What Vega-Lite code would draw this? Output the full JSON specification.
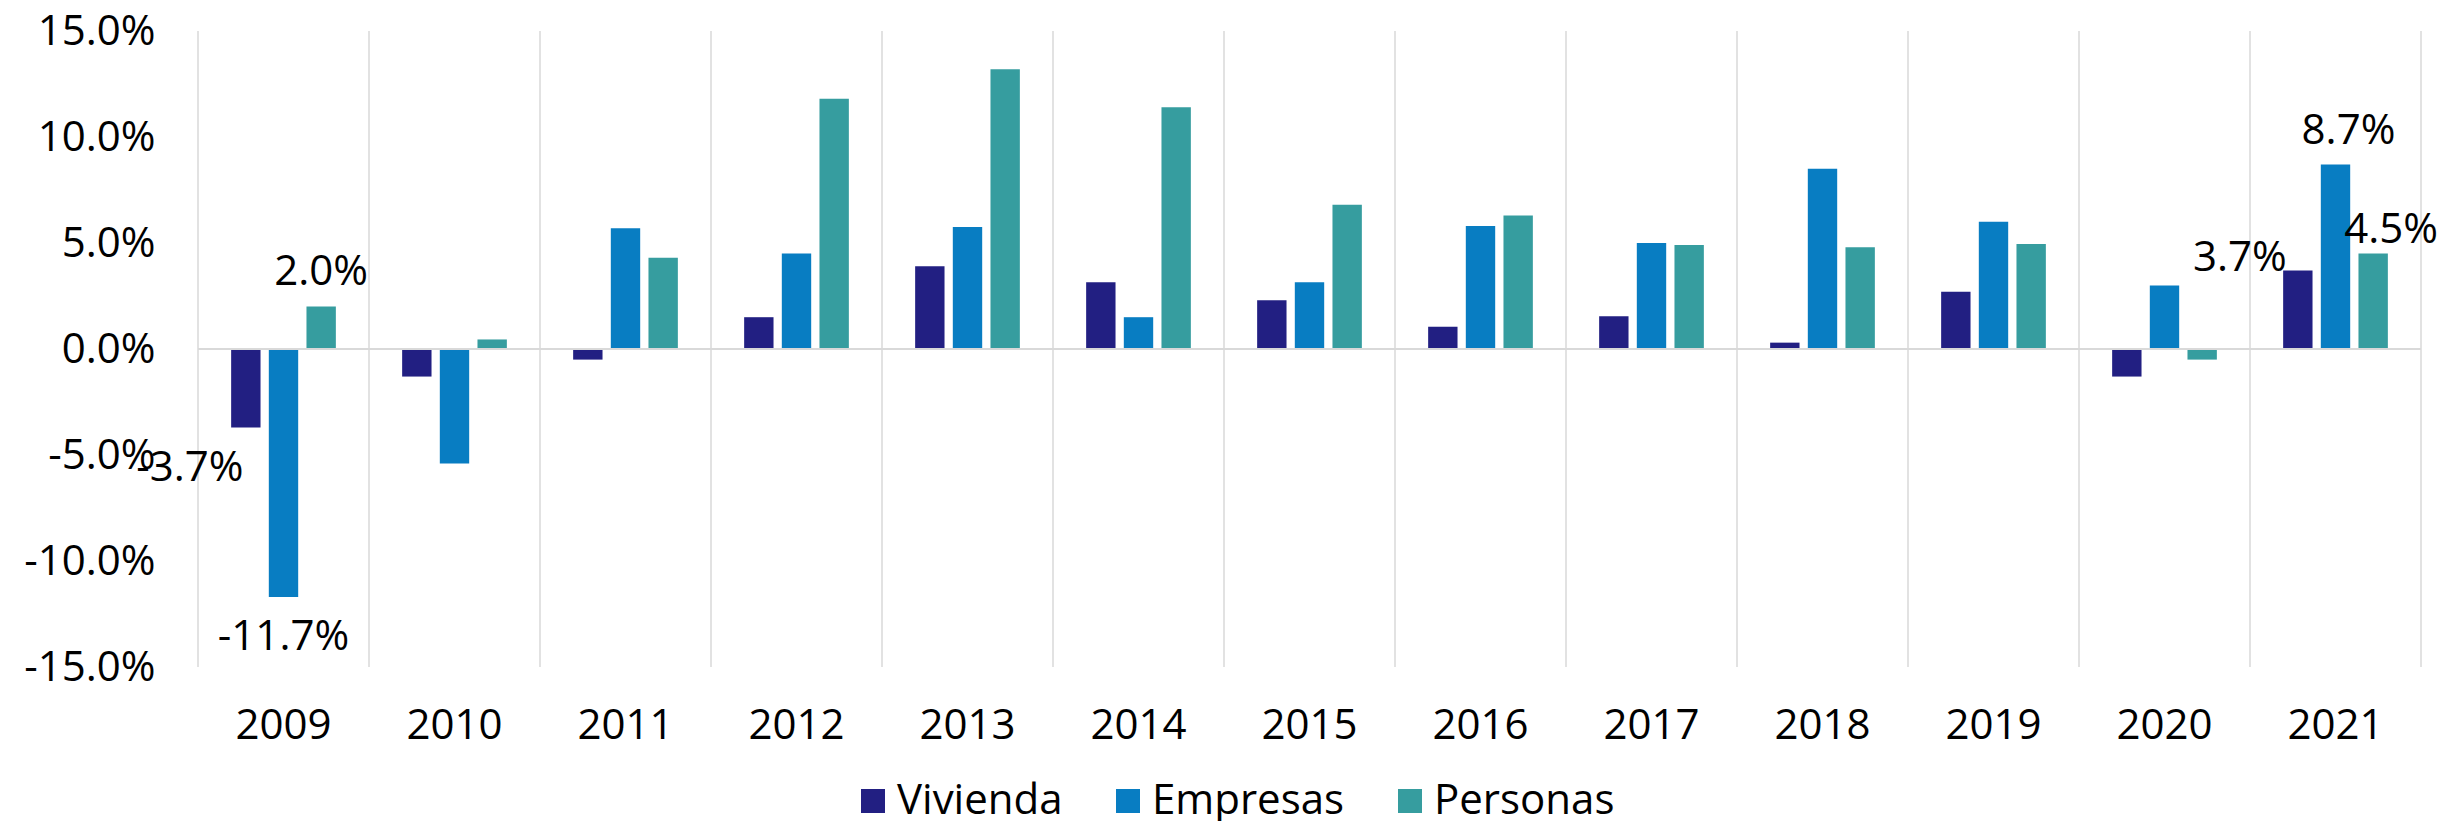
{
  "$schema": "https://vega.github.io/schema/vega-lite/v6.json",
  "width": 2223,
  "height": 636,
  "autosize": {"type": "none"},
  "padding": {"left": 198, "top": 31, "right": 24, "bottom": 154},
  "background": "white",
  "config": {
    "view": {"stroke": null},
    "font": "Open Sans",
    "axis": {"grid": false, "domain": false, "ticks": false, "labelFontSize": 42, "labelFont": "Open Sans", "labelColor": "#000000", "titleOpacity": 0}
  },
  "data": {
    "values": [
      {"year": "2009", "serie": "Vivienda", "value": -0.037},
      {"year": "2009", "serie": "Empresas", "value": -0.117},
      {"year": "2009", "serie": "Personas", "value": 0.020},
      {"year": "2010", "serie": "Vivienda", "value": -0.013},
      {"year": "2010", "serie": "Empresas", "value": -0.054},
      {"year": "2010", "serie": "Personas", "value": 0.0045},
      {"year": "2011", "serie": "Vivienda", "value": -0.005},
      {"year": "2011", "serie": "Empresas", "value": 0.057},
      {"year": "2011", "serie": "Personas", "value": 0.043},
      {"year": "2012", "serie": "Vivienda", "value": 0.015},
      {"year": "2012", "serie": "Empresas", "value": 0.045},
      {"year": "2012", "serie": "Personas", "value": 0.118},
      {"year": "2013", "serie": "Vivienda", "value": 0.039},
      {"year": "2013", "serie": "Empresas", "value": 0.0575},
      {"year": "2013", "serie": "Personas", "value": 0.132},
      {"year": "2014", "serie": "Vivienda", "value": 0.0315},
      {"year": "2014", "serie": "Empresas", "value": 0.015},
      {"year": "2014", "serie": "Personas", "value": 0.114},
      {"year": "2015", "serie": "Vivienda", "value": 0.023},
      {"year": "2015", "serie": "Empresas", "value": 0.0315},
      {"year": "2015", "serie": "Personas", "value": 0.068},
      {"year": "2016", "serie": "Vivienda", "value": 0.0105},
      {"year": "2016", "serie": "Empresas", "value": 0.058},
      {"year": "2016", "serie": "Personas", "value": 0.063},
      {"year": "2017", "serie": "Vivienda", "value": 0.0155},
      {"year": "2017", "serie": "Empresas", "value": 0.050},
      {"year": "2017", "serie": "Personas", "value": 0.049},
      {"year": "2018", "serie": "Vivienda", "value": 0.003},
      {"year": "2018", "serie": "Empresas", "value": 0.085},
      {"year": "2018", "serie": "Personas", "value": 0.048},
      {"year": "2019", "serie": "Vivienda", "value": 0.027},
      {"year": "2019", "serie": "Empresas", "value": 0.060},
      {"year": "2019", "serie": "Personas", "value": 0.0495},
      {"year": "2020", "serie": "Vivienda", "value": -0.013},
      {"year": "2020", "serie": "Empresas", "value": 0.030},
      {"year": "2020", "serie": "Personas", "value": -0.005},
      {"year": "2021", "serie": "Vivienda", "value": 0.037},
      {"year": "2021", "serie": "Empresas", "value": 0.087},
      {"year": "2021", "serie": "Personas", "value": 0.045}
    ]
  },
  "layer": [
    {
      "mark": {"type": "bar"},
      "encoding": {
        "x": {
          "field": "year", "type": "nominal",
          "scale": {"type": "band", "paddingInner": 0, "paddingOuter": 0},
          "axis": {"labelPadding": 38, "labelAngle": 0, "title": null}
        },
        "xOffset": {
          "field": "serie", "type": "nominal",
          "scale": {"domain": ["Vivienda", "Empresas", "Personas"], "paddingInner": 0.22, "paddingOuter": 0.88}
        },
        "y": {
          "field": "value", "type": "quantitative",
          "scale": {"domain": [-0.15, 0.15], "nice": false},
          "axis": {"values": [-0.15, -0.1, -0.05, 0, 0.05, 0.1, 0.15], "labelExpr": "replace(format(datum.value, '.1%'), '\u2212', '-')", "labelPadding": 43, "title": null}
        },
        "color": {
          "field": "serie", "type": "nominal",
          "scale": {"domain": ["Vivienda", "Empresas", "Personas"], "range": ["#221f82", "#087dc2", "#369d9f"]},
          "legend": {"orient": "none", "legendX": 654, "legendY": 749, "direction": "horizontal", "title": null, "symbolType": "square", "symbolSize": 576, "symbolOpacity": 1, "symbolStrokeWidth": 0, "labelFontSize": 42, "labelFont": "Open Sans", "labelOffset": 3, "columnPadding": 44, "labelColor": "#000000", "padding": 0, "labelLimit": 400}
        }
      }
    },
    {
      "transform": [{"aggregate": [{"op": "count", "as": "n"}], "groupby": ["year"]}],
      "mark": {"type": "rule", "color": "#d9d9d9", "strokeWidth": 1.5},
      "encoding": {
        "x": {"field": "year", "type": "nominal", "bandPosition": 0}
      }
    },
    {
      "transform": [{"filter": "datum.year === '2021' && datum.serie === 'Personas'"}],
      "mark": {"type": "rule", "color": "#d9d9d9", "strokeWidth": 1.5},
      "encoding": {
        "x": {"field": "year", "type": "nominal", "bandPosition": 1}
      }
    },
    {
      "mark": {"type": "rule", "color": "#d9d9d9", "strokeWidth": 1.75},
      "encoding": {
        "y": {"datum": 0, "type": "quantitative"}
      }
    },
    {
      "transform": [{"filter": "datum.year === '2009' && datum.serie === 'Personas'"}],
      "mark": {"type": "text", "fontSize": 42, "font": "Open Sans", "color": "#000000", "baseline": "alphabetic", "align": "center", "dx": 0, "dy": -22, "text": {"expr": "replace(format(datum.value, '.1%'), '\u2212', '-')"}},
      "encoding": {
        "x": {"field": "year", "type": "nominal"},
        "xOffset": {"field": "serie", "type": "nominal"},
        "y": {"field": "value", "type": "quantitative"}
      }
    },
    {
      "transform": [{"filter": "datum.year === '2021' && datum.serie === 'Empresas'"}],
      "mark": {"type": "text", "fontSize": 42, "font": "Open Sans", "color": "#000000", "baseline": "alphabetic", "align": "center", "dx": 13, "dy": -21, "text": {"expr": "replace(format(datum.value, '.1%'), '\u2212', '-')"}},
      "encoding": {
        "x": {"field": "year", "type": "nominal"},
        "xOffset": {"field": "serie", "type": "nominal"},
        "y": {"field": "value", "type": "quantitative"}
      }
    },
    {
      "transform": [{"filter": "datum.year === '2021' && datum.serie === 'Personas'"}],
      "mark": {"type": "text", "fontSize": 42, "font": "Open Sans", "color": "#000000", "baseline": "alphabetic", "align": "center", "dx": 18, "dy": -11, "text": {"expr": "replace(format(datum.value, '.1%'), '\u2212', '-')"}},
      "encoding": {
        "x": {"field": "year", "type": "nominal"},
        "xOffset": {"field": "serie", "type": "nominal"},
        "y": {"field": "value", "type": "quantitative"}
      }
    },
    {
      "transform": [{"filter": "datum.year === '2021' && datum.serie === 'Vivienda'"}],
      "mark": {"type": "text", "fontSize": 42, "font": "Open Sans", "color": "#000000", "baseline": "alphabetic", "align": "center", "dx": -58, "dy": 0, "text": {"expr": "replace(format(datum.value, '.1%'), '\u2212', '-')"}},
      "encoding": {
        "x": {"field": "year", "type": "nominal"},
        "xOffset": {"field": "serie", "type": "nominal"},
        "y": {"field": "value", "type": "quantitative"}
      }
    },
    {
      "transform": [{"filter": "datum.year === '2009' && datum.serie === 'Empresas'"}],
      "mark": {"type": "text", "fontSize": 42, "font": "Open Sans", "color": "#000000", "baseline": "alphabetic", "align": "center", "dx": 0, "dy": 53, "text": {"expr": "replace(format(datum.value, '.1%'), '\u2212', '-')"}},
      "encoding": {
        "x": {"field": "year", "type": "nominal"},
        "xOffset": {"field": "serie", "type": "nominal"},
        "y": {"field": "value", "type": "quantitative"}
      }
    },
    {
      "transform": [{"filter": "datum.year === '2009' && datum.serie === 'Vivienda'"}],
      "mark": {"type": "text", "fontSize": 42, "font": "Open Sans", "color": "#000000", "baseline": "alphabetic", "align": "center", "dx": -56, "dy": 54, "text": {"expr": "replace(format(datum.value, '.1%'), '\u2212', '-')"}},
      "encoding": {
        "x": {"field": "year", "type": "nominal"},
        "xOffset": {"field": "serie", "type": "nominal"},
        "y": {"field": "value", "type": "quantitative"}
      }
    }
  ]
}
